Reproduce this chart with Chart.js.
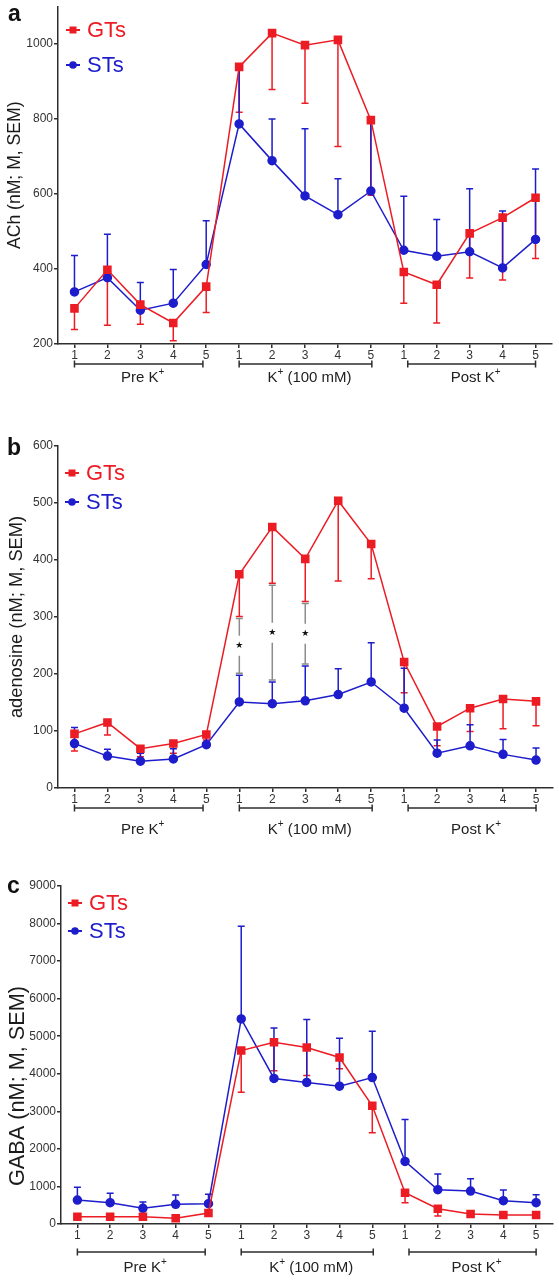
<!DOCTYPE html>
<html>
<head>
<meta charset="utf-8">
<script src="https://cdn.jsdelivr.net/npm/chart.js@4.4.1/dist/chart.umd.min.js"></script>
<style>
  body { margin: 0; background: #fff; }
  .panel { position: absolute; left: 0; width: 559px; }
  canvas { display: block; }
</style>
</head>
<body>
<div class="panel" style="top:0"><canvas id="chartA" width="559" height="420"></canvas></div>
<div class="panel" style="top:420px"><canvas id="chartB" width="559" height="440"></canvas></div>
<div class="panel" style="top:860px"><canvas id="chartC" width="559" height="420"></canvas></div>
<script>
const RED = "#ec1c24";
const BLUE = "#1d1dcc";
const AXIS = "#2e2e2e";
const FONT = "'Liberation Sans', Arial, Helvetica, sans-serif";

// sample numbers within each phase
const xLabels = ["1", "2", "3", "4", "5", "1", "2", "3", "4", "5", "1", "2", "3", "4", "5"];
const groupNames = ["Pre K⁺", "K⁺ (100 mM)", "Post K⁺"];
const groupSpans = [[0, 3.9], [5, 9.03], [10.12, 14]];
const seriesNames = ["GTs", "STs"];

// ACh
const achGT = [295, 398, 305, 256, 353, 939, 1029, 997, 1011, 797, 392, 358, 495, 537, 590];
const achGTsem = [56, 148, 52, 47, 69, 121, 150, 155, 284, 200, 83, 102, 119, 166, 162];
const achST = [339, 377, 290, 309, 412, 787, 689, 595, 545, 608, 450, 434, 446, 403, 479];
const achSTsem = [97, 116, 74, 90, 117, 145, 111, 179, 96, 189, 144, 98, 168, 152, 188];
const achTicks = [200, 400, 600, 800, 1000];

// adenosine
const adoGT = [95, 115, 69, 78, 94, 375, 458, 402, 504, 428, 221, 108, 140, 156, 152];
const adoGTsem = [30, 22, 14, 17, 10, 74, 99, 75, 141, 61, 54, 34, 41, 52, 43];
const adoST = [78, 56, 47, 51, 76, 151, 148, 153, 164, 186, 140, 61, 74, 59, 49];
const adoSTsem = [28, 12, 14, 18, 22, 47, 38, 61, 45, 69, 70, 23, 37, 26, 21];
const adoTicks = [0, 100, 200, 300, 400, 500, 600];
const adoSignif = [5, 6, 7];

// GABA
const gabaGT = [195, 195, 195, 151, 293, 4620, 4840, 4700, 4434, 3147, 833, 408, 266, 239, 239];
const gabaGTsem = [20, 20, 20, 20, 50, 1110, 760, 745, 300, 717, 266, 195, 40, 30, 30];
const gabaST = [638, 567, 417, 523, 541, 5460, 3875, 3770, 3670, 3900, 1667, 913, 878, 620, 567];
const gabaSTsem = [338, 249, 168, 248, 248, 2470, 1345, 1675, 1278, 1230, 1118, 417, 328, 284, 213];
const gabaTicks = [0, 1000, 2000, 3000, 4000, 5000, 6000, 7000, 8000, 9000];

// error bars: GTs drawn downwards, STs upwards
const errorBars = {
  id: "errorBars",
  beforeDatasetsDraw(chart) {
    const { ctx, scales: { x, y } } = chart;
    chart.data.datasets.forEach(ds => {
      ctx.save();
      ctx.strokeStyle = ds.borderColor;
      ctx.lineWidth = 1.5;
      ds.data.forEach((p, i) => {
        const px = x.getPixelForValue(p.x);
        const y0 = y.getPixelForValue(p.y);
        const y1 = y.getPixelForValue(p.y + ds.errDir * ds.sem[i]);
        ctx.beginPath();
        ctx.moveTo(px, y0);
        ctx.lineTo(px, y1);
        ctx.moveTo(px - 3.5, y1);
        ctx.lineTo(px + 3.5, y1);
        ctx.stroke();
      });
      ctx.restore();
    });
  }
};

// grey bars with star between GT lower and ST upper error
const signifMarks = {
  id: "signifMarks",
  afterDatasetsDraw(chart, args, opts) {
    if (!opts.idx) return;
    const { ctx, scales: { x, y } } = chart;
    const [gt, st] = chart.data.datasets;
    ctx.save();
    ctx.strokeStyle = "#8c8c8c";
    ctx.lineWidth = 1.5;
    opts.idx.forEach(i => {
      const px = x.getPixelForValue(i);
      const top = y.getPixelForValue(gt.data[i].y - gt.sem[i]) + 2;
      const bot = y.getPixelForValue(st.data[i].y + st.sem[i]) - 2;
      const mid = (top + bot) / 2;
      ctx.beginPath();
      ctx.moveTo(px - 3.5, top); ctx.lineTo(px + 3.5, top);
      ctx.moveTo(px, top); ctx.lineTo(px, mid - 10);
      ctx.moveTo(px, mid + 10); ctx.lineTo(px, bot);
      ctx.moveTo(px - 3.5, bot); ctx.lineTo(px + 3.5, bot);
      ctx.stroke();
      ctx.fillStyle = "#111";
      ctx.font = "9px 'DejaVu Sans'";
      ctx.textAlign = "center";
      ctx.textBaseline = "middle";
      ctx.fillText("★", px, mid);
    });
    ctx.restore();
  }
};

// legend inside plot, top left
const innerLegend = {
  id: "innerLegend",
  afterDraw(chart, args, opts) {
    const { ctx } = chart;
    ctx.save();
    chart.data.datasets.forEach((ds, k) => {
      const cy = opts.rows[k];
      ctx.strokeStyle = ds.borderColor;
      ctx.fillStyle = ds.borderColor;
      ctx.lineWidth = 2;
      ctx.beginPath();
      ctx.moveTo(opts.x, cy);
      ctx.lineTo(opts.x + 14, cy);
      ctx.stroke();
      if (ds.pointStyle === "rect") {
        ctx.fillRect(opts.x + 3.5, cy - 3.5, 7, 7);
      } else {
        ctx.beginPath();
        ctx.arc(opts.x + 7, cy, 3.8, 0, Math.PI * 2);
        ctx.fill();
      }
      ctx.font = "22px " + FONT;
      ctx.textBaseline = "middle";
      ctx.textAlign = "left";
      ctx.fillText(ds.label, opts.x + 21, cy + 1);
    });
    ctx.restore();
  }
};

// text with a raised "+" for K+
function drawSupText(ctx, text, cx, cy) {
  const parts = text.split("⁺");
  const big = "15px " + FONT, small = "10px " + FONT;
  let w = 0;
  parts.forEach((p, i) => {
    ctx.font = big; w += ctx.measureText(p).width;
    if (i < parts.length - 1) { ctx.font = small; w += ctx.measureText("+").width; }
  });
  let xx = cx - w / 2;
  ctx.textBaseline = "middle";
  ctx.textAlign = "left";
  parts.forEach((p, i) => {
    ctx.font = big;
    ctx.fillText(p, xx, cy);
    xx += ctx.measureText(p).width;
    if (i < parts.length - 1) {
      ctx.font = small;
      ctx.fillText("+", xx, cy - 6);
      xx += ctx.measureText("+").width;
    }
  });
}

// phase brackets under the x axis
const phaseAxis = {
  id: "phaseAxis",
  afterDraw(chart, args, opts) {
    const { ctx, chartArea, scales: { x } } = chart;
    const by = chartArea.bottom + opts.bracket;
    ctx.save();
    ctx.strokeStyle = AXIS;
    ctx.fillStyle = "#222";
    ctx.lineWidth = 1.5;
    groupSpans.forEach((s, k) => {
      const x0 = x.getPixelForValue(s[0]);
      const x1 = x.getPixelForValue(s[1]);
      ctx.beginPath();
      ctx.moveTo(x0, by); ctx.lineTo(x1, by);
      ctx.moveTo(x0, by - 3.5); ctx.lineTo(x0, by + 3.5);
      ctx.moveTo(x1, by - 3.5); ctx.lineTo(x1, by + 3.5);
      ctx.stroke();
      drawSupText(ctx, groupNames[k], (x0 + x1) / 2 + 4, chartArea.bottom + opts.label);
    });
    ctx.restore();
  }
};

// panel letter and y title (title font sized to its printed length)
const panelText = {
  id: "panelText",
  afterDraw(chart, args, opts) {
    const { ctx, chartArea } = chart;
    ctx.save();
    ctx.fillStyle = "#111";
    ctx.font = "bold 23px " + FONT;
    ctx.textAlign = "left";
    ctx.textBaseline = "alphabetic";
    ctx.fillText(opts.tag, opts.tagX, opts.tagY);
    ctx.font = "16px " + FONT;
    const size = 16 * opts.titleLen / ctx.measureText(opts.title).width;
    ctx.translate(opts.titleX, (chartArea.top + chartArea.bottom) / 2 + opts.titleShift);
    ctx.rotate(-Math.PI / 2);
    ctx.font = size.toFixed(1) + "px " + FONT;
    ctx.fillStyle = "#1a1a1a";
    ctx.textAlign = "center";
    ctx.textBaseline = "middle";
    ctx.fillText(opts.title, 0, 0);
    ctx.restore();
  }
};

function makePanel(id, o) {
  const tickFont = { family: FONT, size: 12 };
  return new Chart(document.getElementById(id), {
    type: "line",
    data: {
      datasets: [
        {
          label: seriesNames[0],
          data: o.gt.map((v, i) => ({ x: i, y: v })),
          sem: o.gtSem,
          errDir: -1,
          borderColor: RED,
          backgroundColor: RED,
          pointStyle: "rect",
          pointRadius: 5,
          borderWidth: 1.5,
          tension: 0
        },
        {
          label: seriesNames[1],
          data: o.st.map((v, i) => ({ x: i, y: v })),
          sem: o.stSem,
          errDir: 1,
          borderColor: BLUE,
          backgroundColor: BLUE,
          pointStyle: "circle",
          pointRadius: 4,
          borderWidth: 1.5,
          tension: 0
        }
      ]
    },
    options: {
      responsive: false,
      animation: false,
      events: [],
      layout: { padding: { top: o.top, right: o.right, left: 0, bottom: 0 } },
      plugins: {
        legend: { display: false },
        tooltip: { enabled: false },
        signifMarks: { idx: o.signif },
        innerLegend: o.legend,
        phaseAxis: o.phase,
        panelText: o.text
      },
      scales: {
        x: {
          type: "linear",
          min: -0.5,
          max: 14.5,
          afterBuildTicks: s => { s.ticks = xLabels.map((_, i) => ({ value: i })); },
          afterFit: s => { s.height = o.xHeight; s.paddingLeft = 0; s.paddingRight = 0; },
          ticks: { callback: (v, i) => xLabels[i], font: tickFont, color: "#333", padding: 0, maxRotation: 0, autoSkip: false },
          grid: { drawOnChartArea: false, tickLength: 4, color: AXIS, lineWidth: 1.5 },
          border: { color: AXIS, width: 1.5 }
        },
        y: {
          min: o.min,
          max: o.max,
          afterBuildTicks: s => { s.ticks = o.ticks.map(v => ({ value: v })); },
          afterFit: s => { s.width = o.left; s.paddingTop = 0; s.paddingBottom = 0; },
          ticks: { callback: v => String(v), font: tickFont, color: "#333", padding: 1 },
          grid: { drawOnChartArea: false, tickLength: 4, color: AXIS, lineWidth: 1.5 },
          border: { color: AXIS, width: 1.5 }
        }
      }
    },
    plugins: [errorBars, signifMarks, innerLegend, phaseAxis, panelText]
  });
}

makePanel("chartA", {
  gt: achGT, gtSem: achGTsem, st: achST, stSem: achSTsem,
  min: 200, max: 1100, ticks: achTicks,
  top: 3, right: 7, left: 58, xHeight: 76,
  legend: { x: 66, rows: [30, 65] },
  phase: { bracket: 20, label: 34 },
  text: { tag: "a", tagX: 8, tagY: 21, title: "ACh (nM; M, SEM)", titleLen: 148, titleX: 15, titleShift: 0 }
});

makePanel("chartB", {
  gt: adoGT, gtSem: adoGTsem, st: adoST, stSem: adoSTsem,
  min: 0, max: 600, ticks: adoTicks, signif: adoSignif,
  top: 26, right: 6, left: 58, xHeight: 72,
  legend: { x: 65, rows: [53, 82] },
  phase: { bracket: 20, label: 42 },
  text: { tag: "b", tagX: 7, tagY: 35, title: "adenosine (nM; M, SEM)", titleLen: 202, titleX: 17, titleShift: 0 }
});

makePanel("chartC", {
  gt: gabaGT, gtSem: gabaGTsem, st: gabaST, stSem: gabaSTsem,
  min: 0, max: 9000, ticks: gabaTicks,
  top: 26, right: 4, left: 61, xHeight: 56,
  legend: { x: 68, rows: [43, 71] },
  phase: { bracket: 28, label: 44 },
  text: { tag: "c", tagX: 7, tagY: 33, title: "GABA (nM; M, SEM)", titleLen: 200, titleX: 18, titleShift: 31 }
});
</script>
</body>
</html>
